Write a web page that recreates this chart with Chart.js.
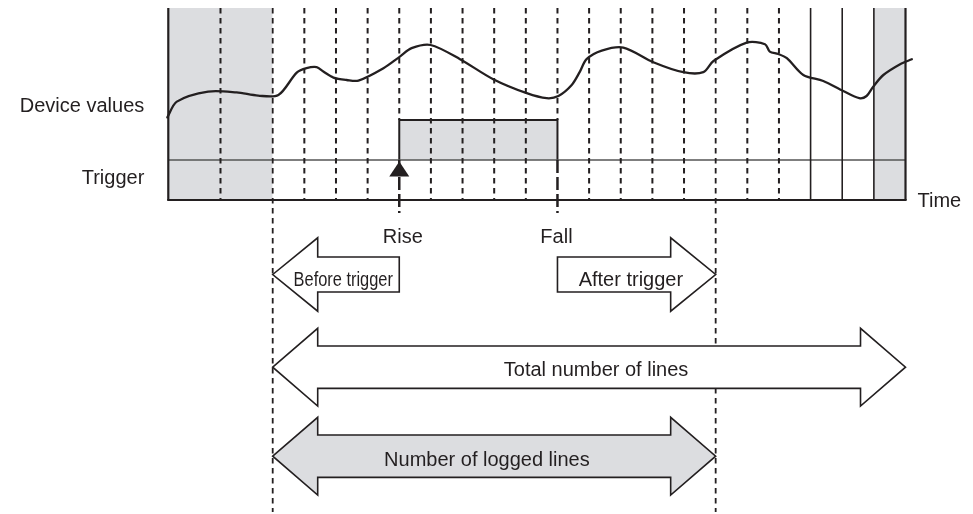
<!DOCTYPE html>
<html><head><meta charset="utf-8">
<script src="https://cdn.jsdelivr.net/npm/chart.js@4.4.1/dist/chart.umd.min.js"></script>
<style>html,body{margin:0;padding:0;background:#fff;}#wrap{width:973px;height:514px;}</style>
</head><body><div id="wrap"><canvas id="c" width="973" height="514"></canvas></div>
<script>
// ---- data (time in sampling-line units, t=0 = start of logging window) ----
const deviceT = [-3.33,-3.03,-2.04,-1.14,-0.46,0.18,0.76,1.07,1.39,1.60,1.92,2.34,2.71,3.50,4.02,4.39,4.99,5.92,6.97,8.03,8.66,9.03,9.45,9.71,9.92,10.40,11.08,12.03,12.98,13.61,13.93,14.98,15.56,15.71,15.98,16.25,16.77,17.40,18.03,18.54,18.77,18.98,19.30,19.83,20.2];
const deviceV = [4.13,4.92,5.42,5.38,5.22,5.25,6.37,6.59,6.64,6.42,6.12,6.00,5.97,6.59,7.17,7.59,7.75,7.04,6.04,5.34,5.09,5.20,5.75,6.42,7.04,7.47,7.62,6.89,6.39,6.39,6.95,7.87,7.79,7.42,7.30,7.09,6.25,5.95,5.45,5.09,5.20,5.67,6.25,6.79,7.04];
const triggerLevels = [2, 4];          // low, high
const triggerRiseT = 4;
const triggerFallT = 9;
const plotRangeT = [-3.3, 20];
const plotTopV = 9.6;
const dashedLinesT = [-1.65, 1, 2, 3, 5, 6, 7, 8, 10, 11, 12, 13, 15, 16];
const windowLinesT = [0, 14];          // start of logging, end of logging
const solidLinesT = [17, 18, 19];
const shadedRangesT = [[-3.3, 0], [19, 20]];
const arrowLabels = ['Before trigger', 'After trigger', 'Total number of lines', 'Number of logged lines'];
const arrowFromT = [4, 9, 0, 0];
const arrowToT = [0, 14, 20, 14];
const axisLabels = ['Device values', 'Trigger', 'Time', 'Rise', 'Fall'];

// ---- styles ----
const GRAY = 'rgb(220,221,224)';
const INK = '#231f20';
const FONT = '20px "Liberation Sans", Arial, Helvetica, sans-serif';

function vline(t, v1, v2, width, dash, order) {
  return { data: [{x:t, y:v1}, {x:t, y:v2}], borderColor: INK, borderWidth: width,
           borderDash: dash, pointRadius: 0, fill: false, order: order, clip: false, tension: 0 };
}

const datasets = [];
// device curve (top-most)
datasets.push({ data: deviceT.map((t,i)=>({x:t, y:deviceV[i]})), borderColor: INK, borderWidth: 2.3,
  pointRadius: 0, tension: 0.3, fill: false, order: 0, clip: false, borderCapStyle: 'round', borderJoinStyle: 'round' });
// shaded regions
shadedRangesT.forEach(r => datasets.push({ data: [{x:r[0], y:plotTopV}, {x:r[1], y:plotTopV}],
  borderWidth: 0, borderColor: 'rgba(0,0,0,0)', backgroundColor: GRAY, fill: 'origin', pointRadius: 0, order: 20 }));
// trigger pulse
datasets.push({ data: [{x:triggerRiseT,y:triggerLevels[0]},{x:triggerRiseT,y:triggerLevels[1]},{x:triggerFallT,y:triggerLevels[1]},{x:triggerFallT,y:triggerLevels[0]}],
  borderColor: INK, borderWidth: 2, borderDash: [1000, 0], backgroundColor: GRAY, fill: {value: triggerLevels[0]},
  pointRadius: 0, order: 15, tension: 0 });
// trigger baseline
datasets.push({ data: [{x:plotRangeT[0], y:triggerLevels[0]}, {x:plotRangeT[1], y:triggerLevels[0]}],
  borderColor: '#555', borderWidth: 1.3, pointRadius: 0, fill: false, order: 12 });
// dashed sampling lines
dashedLinesT.forEach(t => datasets.push(vline(t, plotTopV, 0, 2, [5.5, 4.5], 5)));
// rise / fall: short dashes above the pulse, long dashes below
[triggerRiseT, triggerFallT].forEach(t => {
  datasets.push(vline(t, plotTopV, triggerLevels[1], 2, [5.5, 4.5], 5));
  datasets.push(vline(t, triggerLevels[0], -0.65, 2.5, [13, 4], 5));
});
// logging window lines extended down
windowLinesT.forEach(t => datasets.push(vline(t, plotTopV, -15.6, 1.8, [5.5, 4.5], 5)));
// solid sampling lines
solidLinesT.forEach(t => datasets.push(vline(t, plotTopV, 0, 1.6, [1000, 0], 4)));
// plot frame: left, right, bottom
datasets.push(vline(plotRangeT[0], plotTopV, 0, 2.2, [1000, 0], 3));
datasets.push(vline(plotRangeT[1], plotTopV, 0, 2.2, [1000, 0], 3));
datasets.push({ data: [{x:plotRangeT[0], y:0}, {x:plotRangeT[1], y:0}], borderColor: INK, borderWidth: 2.2,
  pointRadius: 0, fill: false, order: 3, borderCapStyle: 'square' });

// ---- layout for arrows (rows in value units, sizes in px) ----
const arrowRows = [-3.725, -3.725, -8.36, -12.81];
const arrowShaftHalf = [17.5, 17.5, 21.2, 21.2];
const arrowHeadHalf = [36.7, 36.7, 38.9, 38.9];
const arrowHeadLen = 45;
const arrowFill = ['#fff', '#fff', '#fff', GRAY];
const arrowTextT = [2.23, 11.32, 10.22, 6.77];
const arrowTextDy = [11, 11, 9, 10];
const arrowTextSqueeze = [0.82, 1, 1, 1];

const diagram = {
  id: 'diagram',
  afterDatasetsDraw(chart) {
    const ctx = chart.ctx, xs = chart.scales.x, ys = chart.scales.y;
    const X = t => xs.getPixelForValue(t), Y = v => ys.getPixelForValue(v);
    ctx.save();
    // rise marker triangle
    const tx = X(triggerRiseT), ty = Y(triggerLevels[0]) + 1.5;
    ctx.fillStyle = INK;
    ctx.beginPath(); ctx.moveTo(tx, ty); ctx.lineTo(tx + 10, ty + 15); ctx.lineTo(tx - 10, ty + 15); ctx.closePath(); ctx.fill();
    // arrows
    arrowLabels.forEach((lab, i) => {
      const a = X(Math.min(arrowFromT[i], arrowToT[i])), b = X(Math.max(arrowFromT[i], arrowToT[i]));
      const leftHead = arrowToT[i] < arrowFromT[i] || i >= 2;
      const rightHead = arrowToT[i] > arrowFromT[i];
      const cy = Y(arrowRows[i]), sh = arrowShaftHalf[i], hh = arrowHeadHalf[i], hl = arrowHeadLen;
      ctx.beginPath();
      if (leftHead) { ctx.moveTo(a, cy); ctx.lineTo(a + hl, cy - hh); ctx.lineTo(a + hl, cy - sh); }
      else { ctx.moveTo(a, cy + sh); ctx.lineTo(a, cy - sh); }
      if (rightHead) { ctx.lineTo(b - hl, cy - sh); ctx.lineTo(b - hl, cy - hh); ctx.lineTo(b, cy); ctx.lineTo(b - hl, cy + hh); ctx.lineTo(b - hl, cy + sh); }
      else { ctx.lineTo(b, cy - sh); ctx.lineTo(b, cy + sh); }
      if (leftHead) { ctx.lineTo(a + hl, cy + sh); ctx.lineTo(a + hl, cy + hh); }
      ctx.closePath();
      ctx.fillStyle = arrowFill[i]; ctx.fill();
      ctx.lineWidth = 1.6; ctx.strokeStyle = INK; ctx.lineJoin = 'miter'; ctx.stroke();
      ctx.save();
      ctx.translate(X(arrowTextT[i]), cy + arrowTextDy[i]);
      ctx.scale(arrowTextSqueeze[i], 1);
      ctx.font = FONT; ctx.fillStyle = INK; ctx.textAlign = 'center'; ctx.textBaseline = 'alphabetic';
      ctx.fillText(lab, 0, 0);
      ctx.restore();
    });
    // axis-style labels
    ctx.font = FONT; ctx.fillStyle = INK; ctx.textBaseline = 'alphabetic';
    ctx.textAlign = 'right';
    ctx.fillText(axisLabels[0], X(plotRangeT[0]) - 24, Y(4.4));
    ctx.fillText(axisLabels[1], X(plotRangeT[0]) - 24, Y(0.8));
    ctx.textAlign = 'left';
    ctx.fillText(axisLabels[2], X(plotRangeT[1]) + 12, Y(-0.33));
    ctx.textAlign = 'center';
    ctx.fillText(axisLabels[3], X(triggerRiseT) + 3.6, Y(-2.17));
    ctx.fillText(axisLabels[4], X(triggerFallT) - 1, Y(-2.17));
    ctx.restore();
  }
};

new Chart(document.getElementById('c'), {
  type: 'line',
  data: { datasets },
  options: {
    responsive: false, animation: false, devicePixelRatio: 1, events: [],
    layout: { padding: 0 },
    plugins: { legend: { display: false }, tooltip: { enabled: false }, filler: { propagate: false } },
    scales: {
      x: { type: 'linear', min: -8.6188, max: 22.133, display: false },
      y: { type: 'linear', min: -15.7, max: 10, display: false }
    }
  },
  plugins: [diagram]
});
</script>
</body></html>
